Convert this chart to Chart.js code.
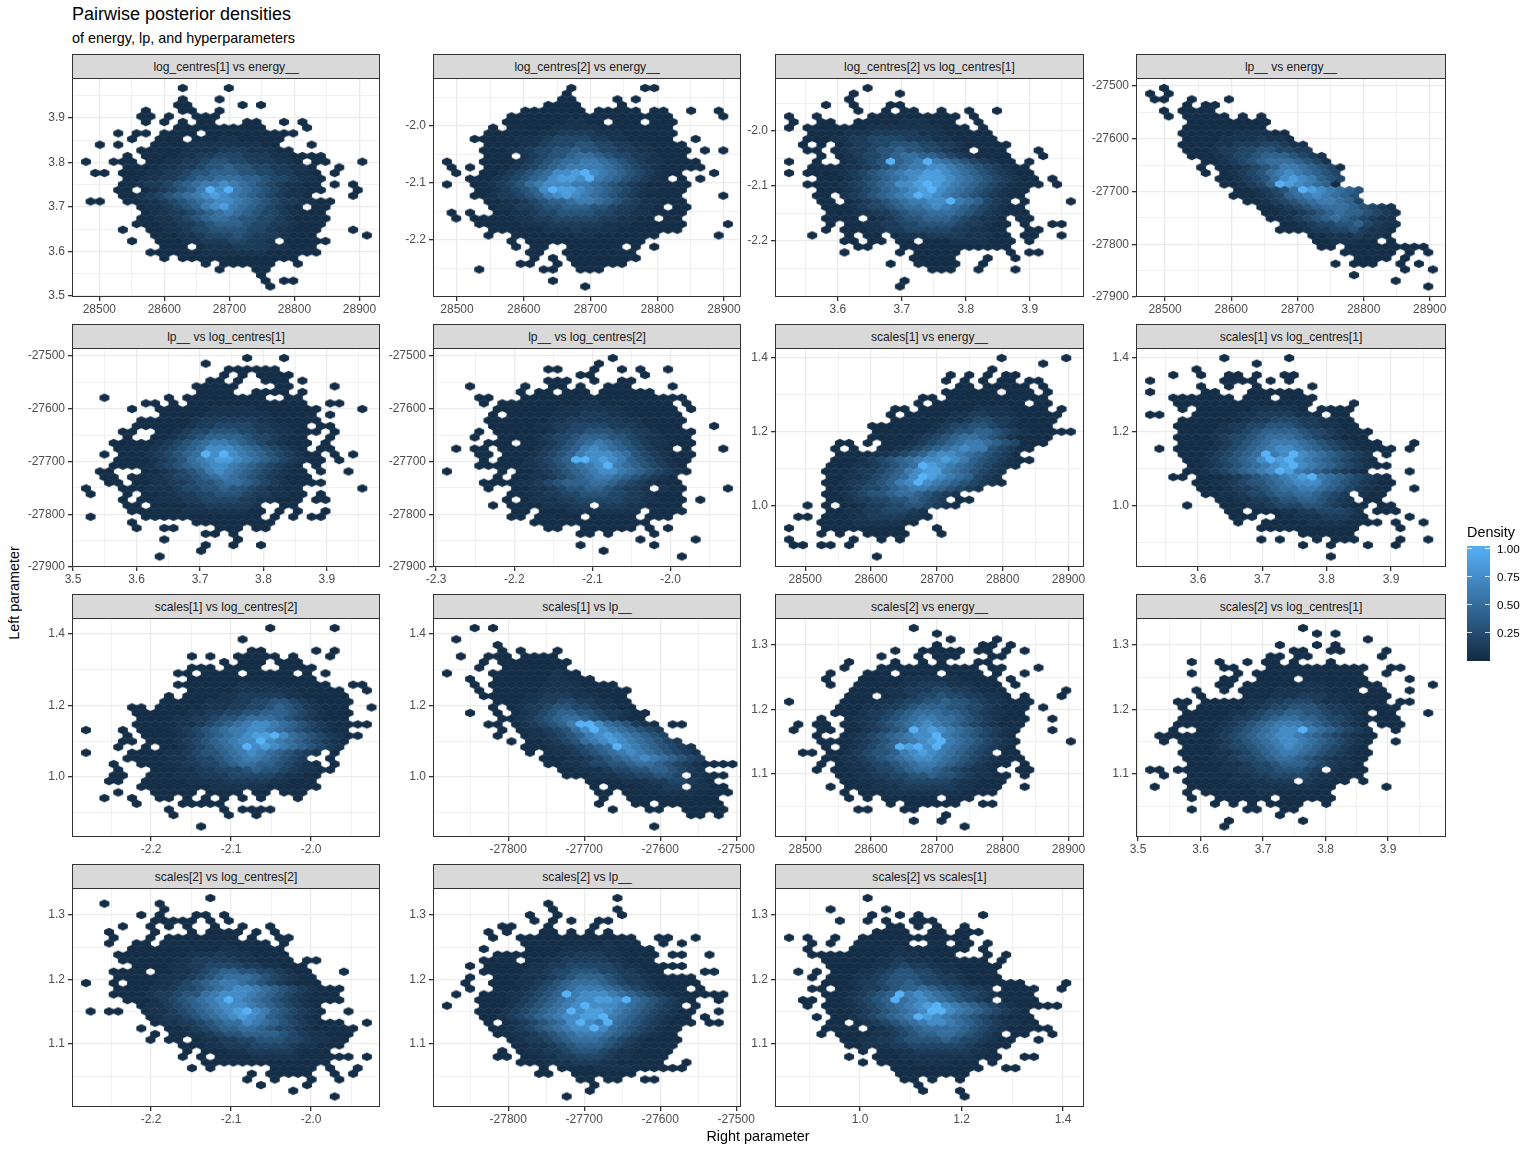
<!DOCTYPE html>
<html>
<head>
<meta charset="utf-8">
<script src="https://cdn.jsdelivr.net/npm/chart.js@4"></script>
<style>
body { margin: 0; background: #fff; font-family: "Liberation Sans", sans-serif; }
#page { position: relative; width: 1536px; height: 1152px; overflow: hidden; }
#page div, #page canvas { position: absolute; }
.txt { white-space: nowrap; color: #000; }
.strip { background: #D9D9D9; border: 1px solid #333; box-sizing: border-box; text-align: center; font-size: 12.1px; line-height: 25px; color: #1A1A1A; }
</style>
</head>
<body>
<div id="page"></div>
<script>
// Facets, in reading order
const panelTitles = [
  "log_centres[1] vs energy__", "log_centres[2] vs energy__", "log_centres[2] vs log_centres[1]", "lp__ vs energy__",
  "lp__ vs log_centres[1]", "lp__ vs log_centres[2]", "scales[1] vs energy__", "scales[1] vs log_centres[1]",
  "scales[1] vs log_centres[2]", "scales[1] vs lp__", "scales[2] vs energy__", "scales[2] vs log_centres[1]",
  "scales[2] vs log_centres[2]", "scales[2] vs lp__", "scales[2] vs scales[1]"
];
// 1 when the even hex rows of that facet sit half a bin to the right
const panelRowShift = [1, 1, 1, 1, 1, 0, 0, 0, 0, 0, 1, 1, 1, 1, 1];

// Axis ranges and ticks as they read on the picture (the free scales differ a bit per facet)
const energyTicks = [28500, 28600, 28700, 28800, 28900];
const lc1Ticks = [3.5, 3.6, 3.7, 3.8, 3.9], lc1TicksShort = [3.6, 3.7, 3.8, 3.9];
const lc2Ticks = [-2.2, -2.1, -2.0], lc2TicksWide = [-2.3, -2.2, -2.1, -2.0];
const lpTicks = [-27900, -27800, -27700, -27600, -27500], lpTicksX = [-27800, -27700, -27600, -27500];
const s1Ticks = [1.0, 1.2, 1.4], s2Ticks = [1.1, 1.2, 1.3];

const panelXRange = [
  [28458, 28930], [28464, 28924], [3.5016, 3.983], [28456, 28923],
  [3.4984, 3.982], [-2.304, -1.911], [28454, 28922], [3.5036, 3.984],
  [-2.299, -1.915], [-27899, -27495], [28454, 28922], [3.4968, 3.991],
  [-2.299, -1.915], [-27899, -27495], [0.8325, 1.4394]
];
const panelXTicks = [
  energyTicks, energyTicks, lc1TicksShort, energyTicks,
  lc1Ticks, lc2TicksWide, energyTicks, lc1TicksShort,
  lc2Ticks, lpTicksX, energyTicks, lc1Ticks,
  lc2Ticks, lpTicksX, s1Ticks
];
const panelXStep = [100, 100, 0.1, 100, 0.1, 0.1, 100, 0.1, 0.1, 100, 100, 0.1, 0.1, 100, 0.2];
const panelYRange = [
  [3.497, 3.99], [-2.2995, -1.9166], [-2.302, -1.9036], [-27900, -27485],
  [-27900, -27485], [-27900, -27485], [0.835, 1.427], [0.835, 1.427],
  [0.832, 1.4448], [0.832, 1.4448], [1.0023, 1.342], [1.0023, 1.342],
  [1.0023, 1.342], [1.0023, 1.342], [1.0023, 1.342]
];
const panelYTicks = [
  lc1Ticks, lc2Ticks, lc2Ticks, lpTicks,
  lpTicks, lpTicks, s1Ticks, s1Ticks,
  s1Ticks, s1Ticks, s2Ticks, s2Ticks,
  s2Ticks, s2Ticks, s2Ticks
];
const panelYStep = [0.1, 0.1, 0.1, 100, 100, 100, 0.2, 0.2, 0.2, 0.2, 0.1, 0.1, 0.1, 0.1, 0.1];

// Hex lattice as a share of each axis span: first centre and spacing
const hexFirstX = 0.0456, hexStepX = 0.03, hexFirstY = 0.0457, hexStepY = 0.02589;

// Density of a cell: '.' is no hex, 0-9 and X index densityLevels. Blanks only group columns by five.
const densityLevels = [0.02, 0.06, 0.12, 0.2, 0.3, 0.4, 0.5, 0.6, 0.72, 0.85, 1.0];
const legendTicks = [0.25, 0.5, 0.75, 1.0];

const hexP01 = [
"..... ..... 0....0", "", "..... ..... 0...0", "..... ..... 00... ..0.0",
"..... .0... 00..0", "..... .00.0 ..000", "..... .0.0. 0.00. ..00. .0.0",
"..... ..... 00000 00000 ....0", "...0. 00.00 00.00 00000 000", "..... 0..00 0.000 11000 00",
".0.0. ..000 01111 11110 0...0", "..... .0000 01111 22211 100", "....0 .0000 11223 33222 11000 0",
"0..00 0.001 12234 43322 2110. 00... 0", "....0 00011 22344 54433 22110 ..0",
".00.0 00112 23445 55443 32211 0.0", "....0 01122 34556 66554 33211 0",
"....0 01223 45677 87654 32110 0.0.0", "...00 .0123 457X8 X7654 32110 0...0",
"....0 01234 56789 87654 32110 ....0", "00..0 01123 45678 87654 32211 00",
"..... .0112 34578 97654 3210. 00", "..... .0112 23456 76543 32100 0",
"..... .0011 23456 65443 32100 00", "..... 00011 22345 55433 22100 0",
"....0 ..001 12334 44433 21100 0...0", "..... ..000 11233 34322 21000 ..... 0",
"..... 0..00 01122 23322 1.000 00", "..... ...00 0.011 12222 11000",
"..... ..000 00011 11111 00000 0", "..... ...0. 00000 00000 000",
"..... ..... ...0. 00000 0..0", "..... ..... ....0 ...00", "..... ..... ..... ....0",
"..... ..... ..... ....0 .00", "..... ..... ..... ..... 0"
];
const hexP02 = [
"..... ..... ...0. ..... .00", "..... ..... ...0", "..... ..... ..00. ...0. 0", "..... ..... .0000 ....0",
"..... ...00 00000 .0000 0.00. .0..0", "..... ..000 00000 00000 00000 ..... 0",
"..... .0000 00011 00.00 0.000", "..... 0.000 00111 11000 00000", "....0 00000 11222 21110 00000",
"...00 00011 12333 32211 00000 ..0", "....0 00011 23334 43322 11000 0", "....0 00112 33445 44332 21100 00.0. 0",
"....0 00.12 34456 65433 22100 0", "0...0 00012 34566 77654 32110 000", "0.0.0 00123 45677 77654 32100 000",
".0..0 01234 56889 X8765 43210 0...0", "..000 12345 68998 X7654 3210. 0.0", "0..00 12346 78887 76543 21000 00",
"...00 12345 8X998 76543 21100 0", "...00 12234 57898 76543 21000 0.... 0", "....0 01123 45567 76543 21100 0",
"..... 01122 34455 54432 2110. 00", "0.0.. 00112 33444 43322 11000 0", ".0.00 00011 22333 33221 100.0 0",
"...00 00011 12222 22111 00000 0.... 0", "..... 00000 01112 11110 00000 0", "....0 ..000 00001 10000 000.. ....0",
"..... ..0.0 00000 00000 00", "..... ..0.0 0..00 0000. 0.0", "..... ....0 0..00 00000 0",
"..... ....0 .0.00 00000 0", "..... ...00 ..0.0 00000", "...0. ..... 00..0 00", "",
"..... ..... .0", "..... ..... ..... 0"
];
const hexP03 = [
"..... ...0", "..... ..0.. ..0", "..... .0", "....0 ..0.. .00", "..... ..0.. 0.00. .0..0 ..0",
"0..0. ....0 00000 0000. 0", "0..00 ..000 00111 000.. 0", "0.000 00001 11111 11000 .0",
"..000 01112 22221 11000 00", "..000 11223 33322 21100 000", ".0.0. 01223 34443 32210 0000",
"..00. 01223 44544 33210 .000. ..0", "...0. 01233 45665 54321 0000. ..0",
"0..0. .0123 4X567 X7654 32100 .0", "..000 01123 45677 88765 43210 0", "0.000 01234 56788 99876 54321 00",
"...00 01234 56789 99876 54321 00.0", "..000 01234 56889 X9876 54321 000.0", "...00 01234 56789 X8765 43210 0",
"...00 .1234 5678X 98765 43210 0", "...00 .0123 45677 88X76 5321. 0.... 0", "....0 00123 34566 78765 43210 0",
"....0 00112 23455 66654 32100 0", "....0 000.0 12344 55543 2110. 00", "....0 .0011 22334 44432 2100. 0..00",
"....0 .0001 12233 33322 1100. .00", "..0.. .0.00 .0111 22221 1100. 00..0", "..... .00.0 0.00. 00011 11000 .0",
"..... ..00. ..000 00000 0000", "..... .0... ..0.0 0000. ....0 .00", "..... ..... ...00 000.. .0..0",
"..... ..... .0..0 0000. .0", "..... ..... ..... 000.. 0...0", "", "..... ..... ..0", "..... ..... ..0"
];
const hexP04 = [
".0", "0.0", "00..0 ...0", "....0 .00", ".0.00 00", "..0.0 0000. 0.0", "....0 00000 000",
"....0 00000 000", "...00 00001 11100", "....0 00011 11211 0", "...00 00112 22332 11", "....0 00122 33443 322",
"....0 00123 34555 4321", "..... .0012 34566 65431", "..... 0.001 23457 76543 0", "..... .0.01 23467 87654 3",
"..... ..001 23468 98754 3", "..... ...00 1235X 98765 0", "..... ....0 01234 6X987 654", "..... ....0 00123 56787 654",
"..... ..... 00123 45677 653", "..... ..... ..001 23456 66543 21", "..... ..... ..001 12345 65543 21",
"..... ..... ...00 12345 65432 11", "..... ..... ....0 01233 44532 11", "..... ..... ....0 00122 33421 10",
"..... ..... ..... ..001 11211 0", "..... ..... ..... ...00 11100 .0", "..... ..... ..... ...00 .0000 00000",
"..... ..... ..... ..... .0000 00.0. 0", "..... ..... ..... ..... ..000 0.0", "..... ..... ..... ..... 0.000 ..0.0",
"..... ..... ..... ..... ..... ..0.. 0", "..... ..... ..... ..... ..0", "..... ..... ..... ..... ..... .0",
"..... ..... ..... ..... ..... ..... 0"
];
// Second row of facets
const hexP05 = [
"..... ..... ..... ..0.. .0", "..... ..... ...0", "..... ..... ..... 00000 0", "..... ..... ..... 0.0.0 000",
"..... ..... ...00 .0..0 00.0", "..... ..... ..000 00... .00.. ..0", "..... ..... ..000 0..00 00.0",
"..0.. ....0 .0000 00000 ..00", "..... .00.0 .0000 00000 0000. .00", "..... 0..00 00001 11110 00000 0.... 0",
"..... ...00 00011 11111 00000 .0", "..... .0000 00122 22221 10000 0", "..... 00000 01223 33322 1100. 00",
"....0 0..00 12334 44332 21100 0.0", "....0 ..001 23455 55433 2100. .0", "...00 00012 34567 76543 21000 .0",
"...00 00123 45688 87654 3210. 00", "..0.0 00123 456X8 X8765 43210 0.0.0", "...00 00123 46789 98765 43210 0.0",
"...00 00123 45678 87654 3210. 0", ".00.. .0012 34578 76543 2100. 0..0", "..00. 00112 33456 76543 21000",
"..00. 00112 23445 66543 21000 0", "0...0 00111 23344 54432 1100. ..... 0", "0...0 .0011 22334 44322 1100. 0",
"....0 .0011 12233 33221 1000. 00", "....0 0.000 01122 2221. .00", "..... 00000 01111 11100 .0.0. .0",
"0.... .0000 00000 0000. 0.0.0 0", "..... 0.... ..000 00000 0", "..... 0..00 ....0 00.00",
"..... ..... ...00 .0", "..... ...0. ..... .0", "..... ..... ...0. .0..0", "..... ..... ..0", "..... ...0"
];
const hexP06 = [
"..... ..... ..... ...0", "..... ..... ..... .0", "..... ..... .00.. .0..0 .0..0", "..... ..... ....0 0.... .0",
"..... ..... .000. .0..0 0", "..0.. ...0. .00.0 ..000 ....0", "..... ...0. 00.00 0.000 000",
"...00 ...00 00000 00000 00000 0", "....0 .0000 00000 11000 00000 .0", "..... 00000 00111 11110 00000 .0",
"..... 0.000 00111 22211 00000 0", "....0 00000 01122 22221 10000 0", "..... 00000 11223 33322 21000 0...0",
"...0. 00000 01233 44433 22100 00", "...0. .0000 12334 55544 32110 00", "....0 00.00 12345 67654 32110 00",
".0.00 .0000 12345 78765 43210 .0... 0", "...00 .0001 23457 88876 43210 00", "....0 .0001 2345X X8987 54321 00",
"...00 00011 23456 78X76 54321 0", "0.... .0.00 12345 67887 65432 10", "..... 0.001 12345 67765 43210",
"....0 00011 23455 56654 32100 0", "....0 ..001 12344 55432 21.10 0.... 0", "..... ..001 12233 44433 22100 0",
"..... .0.01 11223 33332 21100 0.0", "..... 0.000 01112 2.222 11000 0", "..... ..00. 00011 11111 1.000 0",
"..... ..00. 00000 .0000 0.000", "..... ....0 00000 00000 00", "..... ..... .00.. 00000 0.0.0",
"..... ..... ....0 0.0.. ..0", "..... ..... ..... ..... .0... ..0", "..... ..... ....0 ..... ..0",
"..... ..... ..... ..0", "..... ..... ..... ..... ..... 0"
];
const hexP07 = [
"..... ..... ..... ..... ...0. ..... 0", "..... ..... ..... ..... ..... ..0", "..... ..... ..... ..... ..0",
"..... ..... ..... ..0.0 .0.00", "..... ..... ..... ..0.0 .0.00 .00", "..... ..... ..... ...00 .0000 0.0",
"..... ..... ..... ..000 000.0 00.0", "..... ..... ....0 0.000 00000 000", "..... ..... ....0 .0000 00000 0.00",
"..... ..... .00.0 00000 11110 000.0", "..... ..... .0.00 00011 22111 00000", "..... ..... .0000 00112 33221 0000",
"..... ....0 00000 01233 44321 0000", "..... ....0 00000 12344 55432 10000 0", "..... ....0 00001 23456 65431 0000",
"..... 00.0. 00012 34567 76543 000", "..... 0.0.. 00123 45678 77432 00", "..... 00001 12345 78876 5432 0",
"..... 00012 34567 88987 54321 00", "....0 00112 3456X 98765 43210", "....0 00122 34578 99765 4321",
"....0 01123 4568X 98765 321", "....0 01223 4578X 87654 3210", "....0 01233 45677 65432 1",
"....0 01234 45665 4321", "....0 01223 34454 32.00", "..0.0 .0012 23344 3210", "....0 01122 33321",
".00.0 00112 22211 0", "...00 00111 1100", "0...0 00000 000.. .0", "...0. 0..00 000.. .0", "0.... ..0.. 0.0",
"00.00 .0", "", "..... ....0"
];
const hexP08 = [
"..... ...0. ..... 0", "..... ..... .0", "..... 0", "..0.. 0..00 .0..0 0", "0.... ...00 00.0. 0",
"..... 0..0. .0... ..0", "0.... .00.. .0000 00", "..000 0000. 000.0 000", "...00 00000 00000 000.. ..0",
"...0. 00000 01111 10.00 00", "00... 00000 11222 2110. 00", "...00 00000 12233 32211 00",
"...00 00012 23344 43221 100", "...00 00112 34555 54332 1000", "...00 00123 34566 65432 1000",
"...00 00123 45677 76543 21000 ...0", ".0.00 00123 45678 87654 32100 00.0", "...00 01234 56X78 X8765 4321. 0",
"....0 01234 568X9 X8765 43210", "....0 01234 56789 X8765 43210 0", "....0 01234 5678X 97654 3210. ...0",
"..00. 00012 34567 89X76 54321 0", "..... 00112 34456 78886 54321 00", "..... 00012 23456 67765 43210 0..0",
"..... .0011 23345 56654 32.10 0", "..... ..001 12234 45543 21.00", "....0 ...00 01123 33443 2100. 00",
"..... ...00 .0001 12233 321.0 00", "..... ....0 00..0 01112 2210. ...0", "..... ....0 ..000 00111 10000 .0..0",
"..... ..... ..000 00000 000.. ..0", "..... ..... ..... .0000 00", "..... ..... ..0.0 ...0. 000.. ..0.. 0",
"..... ..... ..... .0..0 ...0. .0", "", "..... ..... ..... ....0"
];
// Third row of facets
const hexP09 = [
"..... ..... ..... ..... 0.... ..0", "", "..... ..... ..... ..0", "",
"..... ..... ..... ...00 ..... 0.0", "..... ..... .0.0. .0000 0.0.. .0", "..... ..... ..... 0.000 .000",
"..... ..... .000. 0000. .0000", "..... ..... 00.00 00.00 000.0 .0", "..... ..... .0000 00000 00000",
"..... ..... 00000 00111 10000 00..0 0", "..... ..... .0000 01111 11100 000.. 0", "..... ....0 .0000 11222 22110 0000",
"..... ...00 00011 12233 44321 0000", "..... 00.00 00011 12233 45432 1000 ..0", "..... 00000 01122 33445 55432 1000",
"..... .0000 11223 44566 65432 1000", "..... 00000 11234 56788 76543 21000 0", "0...0 .0000 12345 67788 76543 2100",
"....0 .0000 12345 67899 X8654 3210 0", "....0 0.000 12345 6788X 87654 3210", "...0. .0.00 12345 67X89 87654 321",
"0.... 00001 12344 56787 65432 1.0", "....0 00001 12334 56776 5432. .0", "...0. .0001 12233 45665 54321 0.0",
"...0. ..000 11223 33454 43211 00", "...00 ..000 11122 23333 32110 0", "..00. .0000 01111 22222 11000",
"..... .0000 00001 11111 00000 0", "...0. ..000 00.00 00.00 .000", "..0.. 0..00 .0.0. 0.0.0 ...0",
"..... 0.... 00000", "..... ....0 ..... 0.000 0", "..... ....0 ..... 0..0", "", "..... ..... ..0"
];
const hexP10 = [
"...0. 0", "", ".0", "..... 0", "..... .0.0. ..0", ".0..0 00.00 00", "....0 .0000 0000", "...0. .0000 000",
"0.... 00000 00100", "..0.. 00000 01100 0", "...0. 00000 01111 0000", "...0. 00000 11111 00000",
"....0 00001 12221 11000", "..... 00011 22332 21100", "..... 0.012 23443 32110 0", "..0.. 0.012 34554 43221 00",
"..... .0012 34566 54321 00", "....0 0.012 3457X X8654 210.0 0", "..... .0.01 12346 8X876 5432", "..... 0..01 12345 78987 6543",
"..... ..0.0 01234 67898 76543 2", "..... ...00 01123 456X8 76543 21", "..... ....0 .0112 34567 87654 321",
"..... ..... 00011 23456 78765 432", "..... ..... .0011 23344 56654 32100 00..0", "..... ..... ..001 11233 44554 321",
"..... ..... ...00 01112 23344 3.110 0", "..... ..... ..... 00001 11223 3210", "..... ..... ..... .0.00 00112 2.110 0",
"..... ..... ..... .00.0 00011 11000 0", "..... ..... ..... ..0.. 00000 00000", "..... ..... ..... .0... 00.00 00000",
"..... ..... ..... ...0. ..00. .0000 0", "..... ..... ..... ..... ..... .00.0", "", "..... ..... ..... ..... ..0"
];
const hexP11 = [
"..... ..... ...0", "..... ..... ..... .0", "..... ..... ..... ..0.. ..0", "..... ..... ..... .0... .00.0",
"..... ..... .0..0 0000. 00.0. 0", "..... ..... 0...0 .000. ..00", "..... .0... .0..0 .0... 00",
"..... .0... 00000 00000 0.00. ..0", "....0 ...00 0.000 0.000 0.0.. 0", "....0 ...00 00011 11110 000.0",
"....0 ..000 00112 22111 000.0", "..... ..000 01122 23322 1000. ..... 0", "..... .000. 01123 34332 2110. 0...0",
"0.... .0000 11233 44544 32110 00", "..... 00011 22345 55443 32100 0.0", "..... 00012 23456 66554 32110 0",
"...0. .0112 34567 76654 32100 0..0", ".0.00 .0012 34567 87654 32100 0", "0..00 .0012 345X8 98765 43210 ...0",
"...0. .0123 45678 8X765 43210", "...00 00123 45678 9X765 43210 ..... 0", "....0 .0123 45X9X 8X765 43210",
".00.0 01234 45789 87654 32.00", "....0 01123 45678 87654 32100 0", "...0. 01123 34567 76543 2100. 0",
"...0. 00112 33456 65432 110.. 00", "..... 00112 23344 54432 1100. 0", "..... .0011 12233 33321 1000",
"....0 .0001 11222 22211 000. .0", "..... .0.00 01111 11110 000", "..... .0.0. 00000 0.000", "..... ..... .0.00 0000. .00",
"..... ..00. ..00", "..... ..... ..... ..0", "..... ..... ...0. .0", "..... ..... ..... ....0"
];
const hexP12 = [
"..... ..... ..... .0", "..... ..... ..... ...0. 0", "..... ..... ..... ..... ...0", "..... ..... ....0 ...0. 0",
"..... ..... ..... 00..0 0.... 0", "..... ..... ...00 .00.. ..... 0", "....0 ..0.. 0.00. 0...0",
"..... ...00 ...00 00000 0000. .00", "....0 ....0 .0000 00000 000.. 0", "..... ...00 ..000 0.000 0000. ...0",
"..... ..00. 00000 01110 00000 ..... 0", "..... 0..0. 00001 11111 000.0 0..0", "..... 0.... 00011 12221 10000 0",
"...00 .0000 01122 33321 10000 0.00", "...0. 00000 11233 44432 21100 00", "....0 00001 12344 55443 2210. 00... 0",
"...00 00012 23456 65543 32100 00", "...00 00012 34567 77654 3210. 000", "..0.. 00123 45678 8X765 4321. .0",
".0000 00123 45678 87654 32100", ".0.00 00123 45678 87654 3210. .0", "....0 00123 34567 87654 3210",
"...00 00112 34567 76543 2100", "....0 00112 33456 65432 1100", "....0 00011 23345 55432 110",
"00.00 00011 22334 4432. 100 0", ".0..0 00001 12233 33211 000", "....0 00001 11122 2.211 00.0",
"0...0 00000 01111 11100 ..... 0", "....0 .0000 00110 00000", "....0 ..000 000.0 00000",
"..... ..0.0 .0.00 00..0", "....0 ..... 00..0 0", "..... ..... ....0", "..... ...0. ..... .0", "..... ...0"
];
// Last row of facets
const hexP13 = [
"..... ..... ...0", "..0.. ...0", "..... ...0", "..... .0.0. ..00. 0", "..... ..000 00.0. 0",
"....0 ..0.0 .0..0 ..0.. 0", "..0.. ..0.. .0.00 00.0. 0", "...0. ..0.0 00000 00.0. .00", "..0.. 00.00 00000 00000 .0",
"..... 00000 00000 11000 00", "...00 00000 01112 11100 00", "....0 00000 11222 22110 000.0 0",
"..... 00001 12233 33221 1000", "...00 00.00 11234 55443 32100 ...0", "...00 00011 12345 66654 32100",
"0..0. 00011 23456 77654 32100 0", "...00 00112 33456 78876 54321 000", "...00 00122 34467 88876 54321 000",
"....0 00123 45678 X8765 43210 000", "..... .0112 34567 88876 54321 0", "0.00. .0112 34567 89X87 54321 0..0",
"..... ..012 23456 78987 54321 0", "..... ..011 22345 66876 54321 000.. 0", "..... .0..0 01234 55665 43321 00000",
"..... ..0.0 01123 44555 54321 1000", "..... ..0.0 0.011 22334 44332 1100", "..... ..... 00011 22233 33211 000",
"..... ..... .0.00 01122 22210 00", "..... ..... 0.0.0 00011 11100 0000. 0", "..... ..... ...00 00000 00000 00",
"..... ..... .0.0. ..... 00000 .0..0", "..... ..... ..... ...0. 00000 ..0.0", "..... ..... ..... ..0.. 0...0 ..0",
"..... ..... ..... ....0 ....0", "..... ..... ..... ..... ..0", "..... ..... ..... ..... ..... ..0"
];
const hexP14 = [
"..... ..... ..... ...0", "..... ..... .0", "..... ..... .0... ...0", "..... ....0 ..0.. ....0",
"..... ....0 .0.0. .00", "..... .00.. .0... .0", "....0 .0... 00.0. 0.0", "..... 0..00 00000 00000 0..00 ..0",
"..... ...00 00000 00100 0..0. 0", "....0 ....0 00011 11110 000", "..... 00000 00112 22110 000.0 0..0",
"....0 000.0 01122 22211 000", "..0.0 00001 12233 33321 10000 0", "....0 00001 12334 44332 2100. ...00",
"..0.. 00011 12345 55432 21000 00", "..0.. 00011 23456 66543 22100 000", "..0.. 00012 34567 77654 32100 0.0",
".0..0 00112 345X7 88876 54321 00000 0", "...00 00123 45678 8998X 65432 10..0", "0...0 00123 45678 X8887 65432 1.0",
"...00 01234 567X8 99876 54321 00..0", "....0 01234 56788 99X76 54321 00.0", "....0 .0123 4568X 87X65 43210 00.00",
"..... 00123 45678 8X865 43210 0", "..... 00112 34567 77654 32100", "..... ..012 23456 66543 21000 0",
"..... ..001 12345 55432 10000", "..... .0.01 12234 44321 10000", "..... 00.00 11223 33211 0000",
"..... ...00 01112 22110 0000. .0", "..... ..... 0.000 01111 00000 0", "..... ..... 00..0 00000 0",
"..... ..... ....0 0.00. .00", "..... ..... ..... .0", "..... ..... ..... 0", "..... ..... ...0"
];
const hexP15 = [
"..... ...0", "", "....0 ..... 0", "..... ....0 ..0.0 ..... .0", "..... 0..0. 0..00 0",
"..... ..... .00.0 .0..0", "..... ....0 000.. 00.00 0", "0.0.. 0..00 00000 00000", "..0.0 ..000 000.. 00.00 .0",
"..0.. ..000 00100 00000 .0", "..000 00000 01110 000.. .0.0", "....0 00000 11211 10000 00.0", "....0 00001 12322 11100 000",
".0.0. 00011 23443 32110 000", "..0.0 00112 34443 32210 000", "....0 00122 34454 33221 00000 0.... 0",
"..00. 00122 34556 54332 21.00 00..0", "....0 00123 45X78 76543 32100 00", ".00.0 01234 5X678 76543 21.00 00",
"..0.0 00123 45678 9X876 54321 00000", "....0 00123 45678 XX876 54321 0", "...0. 00123 4567X 98765 43210 00",
"....0 0.012 34567 88765 43211 00", "....0 000.0 12345 66665 43210 0000", "...0. 00001 12345 56654 321.0 0..0",
"..... .0011 22344 44543 32100 ..0", "..... .0011 12233 33332 1000", "..... ...0. 00112 22222 110",
"..... .0..0 00111 11111 000.. 00", "..... ...0. 00001 11100 0.0", "..... ..... .0000 00000 0..00",
"..... ..... ..000 00000", "..... ..... ..00. 0..0", "..... ..... ....0", "..... ..... ....0 ...0", "..... ..... ..... ....0"
];
const hexRows = [hexP01, hexP02, hexP03, hexP04, hexP05, hexP06, hexP07, hexP08, hexP09, hexP10, hexP11, hexP12, hexP13, hexP14, hexP15];

// Page layout
const colLefts = [72, 433, 775, 1136], colWidths = [307, 307, 308, 309];
const rowTops = [78, 348, 618, 888];
const plotHeight = 219, stripHeight = 24;
const yGutter = 46, xGutter = 24, padTop = 8, padRight = 24;

const page = document.getElementById("page");

function addText(text, left, top, size, extra) {
  const d = document.createElement("div");
  d.className = "txt";
  d.textContent = text;
  d.style.left = left + "px";
  d.style.top = top + "px";
  d.style.fontSize = size + "px";
  if (extra) Object.assign(d.style, extra);
  page.appendChild(d);
  return d;
}

// ggplot default fill ramp
function densityColor(v) {
  const lo = [19, 43, 67], hi = [86, 177, 247];
  const c = lo.map((l, i) => Math.round(l + (hi[i] - l) * v));
  return `rgb(${c[0]},${c[1]},${c[2]})`;
}

// One small canvas per density level, used as the point style
const hexImages = densityLevels.map((v) => {
  const cv = document.createElement("canvas");
  cv.width = 14;
  cv.height = 12;
  const g = cv.getContext("2d");
  const hw = 4.95, hh = 4.15, sh = 2.1;
  g.translate(7, 6);
  g.fillStyle = densityColor(v);
  g.beginPath();
  g.moveTo(0, -hh);
  g.lineTo(hw, -sh);
  g.lineTo(hw, sh);
  g.lineTo(0, hh);
  g.lineTo(-hw, sh);
  g.lineTo(-hw, -sh);
  g.closePath();
  g.fill();
  return cv;
});

function buildCells(rows, xr, yr, shift) {
  const cells = [];
  const xSpan = xr[1] - xr[0], ySpan = yr[1] - yr[0];
  rows.forEach((text, r) => {
    const row = text.replace(/ /g, "");
    const half = (r + shift) % 2 === 1 ? 0.5 : 0;
    for (let c = 0; c < row.length; c++) {
      const ch = row[c];
      if (ch === ".") continue;
      cells.push({
        x: xr[0] + (hexFirstX + (c + half) * hexStepX) * xSpan,
        y: yr[1] - (hexFirstY + r * hexStepY) * ySpan,
        d: ch === "X" ? 10 : Number(ch)
      });
    }
  });
  return cells;
}

function buildTicks(ticks, step, range) {
  const out = ticks.map((t) => ({ value: t, major: true }));
  for (let i = -1; i < ticks.length; i++) {
    const v = ticks[0] + (i + 0.5) * step;
    if (v > range[0] && v < range[1]) out.push({ value: v, major: false });
  }
  return out.filter((t) => t.value >= range[0] && t.value <= range[1]).sort((a, b) => a.value - b.value);
}

function scaleOptions(range, ticks, step, isX) {
  const digits = step < 1 ? 1 : 0;
  return {
    type: "linear",
    position: isX ? "bottom" : "left",
    min: range[0],
    max: range[1],
    afterBuildTicks: (s) => { s.ticks = buildTicks(ticks, step, range); },
    afterFit: (s) => {
      if (isX) s.height = xGutter; else s.width = yGutter;
      s.paddingLeft = s.paddingRight = s.paddingTop = s.paddingBottom = 0;
    },
    border: { display: false },
    grid: {
      color: "#EBEBEB",
      lineWidth: (c) => (c.tick && c.tick.major ? 1.3 : 0.7),
      tickColor: (c) => (c.tick && c.tick.major ? "#333333" : "rgba(0,0,0,0)"),
      tickLength: 4
    },
    ticks: {
      autoSkip: false,
      maxRotation: 0,
      padding: isX ? 1 : 3,
      color: "#4D4D4D",
      font: { family: "Liberation Sans", size: 12 },
      callback: (v, i, all) => (all[i].major ? Number(v).toFixed(digits) : "")
    }
  };
}

const panelFrame = {
  id: "panelFrame",
  afterDraw(chart) {
    const a = chart.chartArea, g = chart.ctx;
    g.save();
    g.strokeStyle = "#333333";
    g.lineWidth = 1;
    g.strokeRect(a.left + 0.5, a.top + 0.5, a.right - a.left, a.bottom - a.top - 1);
    g.restore();
  }
};

panelTitles.forEach((title, i) => {
  const col = i % 4, row = Math.floor(i / 4);
  const L = colLefts[col], W = colWidths[col], T = rowTops[row];

  const strip = document.createElement("div");
  strip.className = "strip";
  strip.textContent = title;
  strip.style.left = L + "px";
  strip.style.top = (T - stripHeight) + "px";
  strip.style.width = (W + 1) + "px";
  strip.style.height = (stripHeight + 1) + "px";
  page.appendChild(strip);

  const cv = document.createElement("canvas");
  cv.width = yGutter + W + padRight;
  cv.height = padTop + plotHeight + xGutter;
  cv.style.left = (L - yGutter) + "px";
  cv.style.top = (T - padTop) + "px";
  page.appendChild(cv);

  new Chart(cv.getContext("2d"), {
    type: "scatter",
    data: {
      datasets: [{
        data: buildCells(hexRows[i], panelXRange[i], panelYRange[i], panelRowShift[i]),
        pointStyle: (c) => (c.raw ? hexImages[c.raw.d] : "circle"),
        pointRadius: 4
      }]
    },
    options: {
      responsive: false,
      animation: false,
      events: [],
      layout: { padding: { left: 0, top: padTop, right: padRight, bottom: 0 } },
      plugins: { legend: { display: false }, tooltip: { enabled: false } },
      scales: {
        x: scaleOptions(panelXRange[i], panelXTicks[i], panelXStep[i], true),
        y: scaleOptions(panelYRange[i], panelYTicks[i], panelYStep[i], false)
      }
    },
    plugins: [panelFrame]
  });
});

// Titles
addText("Pairwise posterior densities", 72, 4, 18);
addText("of energy, lp, and hyperparameters", 72, 30, 14.4);
addText("Right parameter", 758, 1128, 14.4, { transform: "translateX(-50%)" });
addText("Left parameter", 14, 593, 14.4, { transform: "translate(-50%,-50%) rotate(-90deg)" });

// Legend
addText("Density", 1467, 524, 14.4);
const bar = document.createElement("div");
bar.style.left = "1467px";
bar.style.top = "546px";
bar.style.width = "23px";
bar.style.height = "115px";
bar.style.background = `linear-gradient(to top, ${densityColor(0)}, ${densityColor(1)})`;
page.appendChild(bar);
legendTicks.forEach((v) => {
  const y = 660.7 - v * 112;
  [1467, 1485.4].forEach((x) => {
    const t = document.createElement("div");
    t.style.left = x + "px";
    t.style.top = (y - 0.5) + "px";
    t.style.width = "4.6px";
    t.style.height = "1px";
    t.style.background = "rgba(255,255,255,0.8)";
    page.appendChild(t);
  });
  addText(v.toFixed(2), 1497, y - 7, 11.7);
});
</script>
</body>
</html>
